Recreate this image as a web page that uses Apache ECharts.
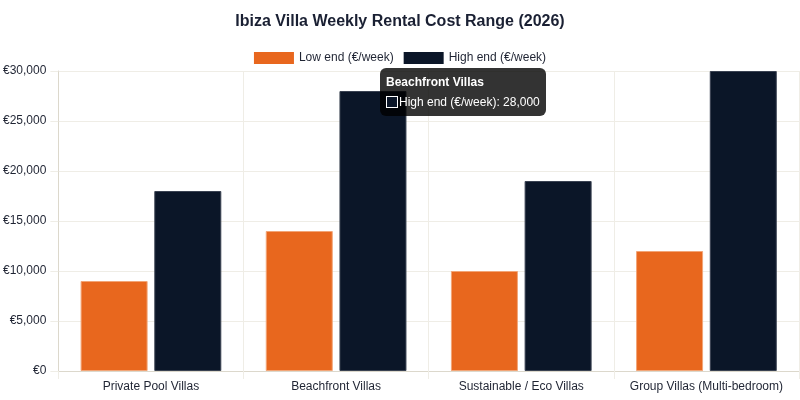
<!DOCTYPE html>
<html>
<head>
<meta charset="utf-8">
<script src="https://cdn.jsdelivr.net/npm/echarts@6/dist/echarts.min.js"></script>
<style>
  html, body { margin: 0; padding: 0; background: #fff; }
  #chart { width: 800px; height: 400px; }
</style>
</head>
<body>
<div id="chart"></div>
<script>
// Chart data
const categories = ['Private Pool Villas', 'Beachfront Villas', 'Sustainable / Eco Villas', 'Group Villas (Multi-bedroom)'];
const lowEnd = [9000, 14000, 10000, 12000];
const highEnd = [18000, 28000, 19000, 30000];
const seriesNames = ['Low end (€/week)', 'High end (€/week)'];
const yTicks = { min: 0, max: 30000, interval: 5000 };

const fontFamily = 'Liberation Sans, Arial, Helvetica, sans-serif';
const textColor = '#1f2433';
const gridColor = '#efede6';
const axisColor = '#dcd8cc';

function formatNumber(v) {
    return v.toString().replace(/\B(?=(\d{3})+(?!\d))/g, ',');
}

const chart = echarts.init(document.getElementById('chart'));

const option = {
    animation: false,
    backgroundColor: '#fff',
    title: {
        text: 'Ibiza Villa Weekly Rental Cost Range (2026)',
        left: 'center',
        top: 9,
        textStyle: {
            fontFamily: fontFamily,
            fontSize: 16,
            fontWeight: 'bold',
            color: '#1a2033'
        }
    },
    legend: {
        top: 47,
        left: 'center',
        itemWidth: 40,
        itemHeight: 12,
        itemGap: 10,
        icon: 'rect',
        itemStyle: { borderWidth: 0 },
        textStyle: {
            fontFamily: fontFamily,
            fontSize: 12,
            color: textColor
        },
        data: seriesNames
    },
    tooltip: {
        trigger: 'item',
        alwaysShowContent: true,
        transitionDuration: 0,
        backgroundColor: 'rgba(0,0,0,0.8)',
        borderWidth: 0,
        padding: [6, 6],
        extraCssText: 'border-radius:6px;box-shadow:none;',
        position: function () {
            return [380, 68];
        },
        formatter: function (p) {
            return '<div style="font:bold 12px ' + fontFamily + ';color:#fff;line-height:16px;margin-bottom:4px;">' + p.name + '</div>' +
                '<div style="font:12px ' + fontFamily + ';color:#fff;line-height:16px;">' +
                '<span style="display:inline-block;width:10px;height:10px;border:1px solid #fff;background:' + p.color + ';vertical-align:-2px;margin-right:1px;"></span>' +
                p.seriesName + ': ' + formatNumber(p.value) + '</div>';
        }
    },
    grid: {
        left: 58,
        right: 1,
        top: 71,
        bottom: 29
    },
    xAxis: {
        type: 'category',
        data: categories,
        axisLine: { lineStyle: { color: axisColor } },
        axisTick: { show: true, interval: 0, length: 8, lineStyle: { color: gridColor } },
        splitLine: { show: true, interval: 0, lineStyle: { color: gridColor } },
        axisLabel: {
            interval: 0,
            fontFamily: fontFamily,
            fontSize: 12,
            color: textColor,
            margin: 10
        }
    },
    yAxis: {
        type: 'value',
        min: yTicks.min,
        max: yTicks.max,
        interval: yTicks.interval,
        axisLine: { show: true, lineStyle: { color: axisColor } },
        axisTick: { show: true, length: 8, lineStyle: { color: gridColor } },
        splitLine: { lineStyle: { color: gridColor } },
        axisLabel: {
            fontFamily: fontFamily,
            fontSize: 12,
            color: textColor,
            margin: 12,
            formatter: function (v) { return '€' + formatNumber(v); }
        }
    },
    series: [
        {
            name: seriesNames[0],
            type: 'bar',
            data: lowEnd,
            barWidth: 67,
            barGap: '10%',
            itemStyle: {
                color: '#e8671e',
                borderColor: '#f2a577',
                borderWidth: 1
            },
            emphasis: { disabled: true }
        },
        {
            name: seriesNames[1],
            type: 'bar',
            data: highEnd,
            barWidth: 67,
            barGap: '10%',
            itemStyle: {
                color: '#0b1628',
                borderColor: '#3a4252',
                borderWidth: 1
            },
            emphasis: { disabled: true }
        }
    ]
};

chart.setOption(option);
chart.dispatchAction({ type: 'showTip', seriesIndex: 1, dataIndex: 1 });
</script>
</body>
</html>
